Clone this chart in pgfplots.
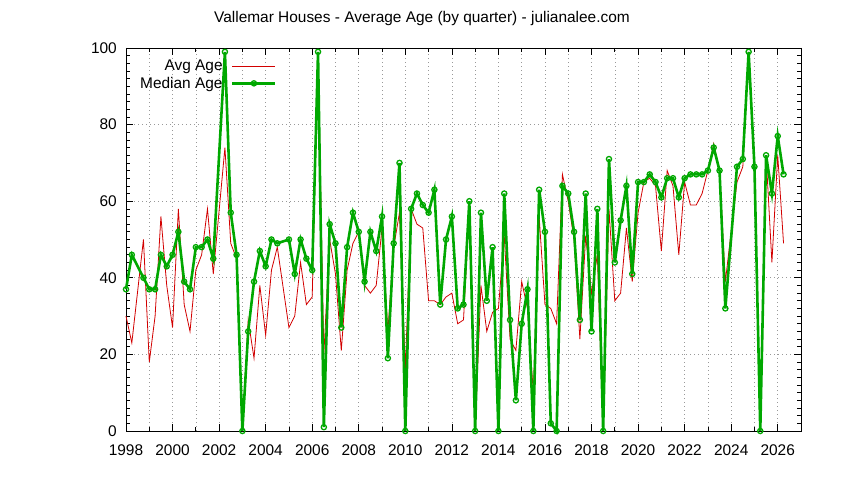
\documentclass[border=0pt]{standalone}
\usepackage{fontspec}
\setmainfont{Liberation Sans}
\usepackage{pgfplots}
\usepackage{pgfplotstable}
\pgfplotsset{compat=1.18}

\definecolor{avgred}{RGB}{210,0,0}
\definecolor{medgreen}{RGB}{0,168,0}
\newcommand\lbl{\fontsize{15.5}{18}\selectfont}

% quarter, average age, median age (quarters with no sales left out)
\pgfplotstableread{
year avg median
1998.00 30 37
1998.25 23 46
1998.75 50 40
1999.00 18 37
1999.25 30 37
1999.50 56 46
1999.75 38 43
2000.00 27 46
2000.25 58 52
2000.50 33 39
2000.75 26 37
2001.00 42 48
2001.25 46 48
2001.50 58 50
2001.75 41 45
2002.25 74 99
2002.50 49 57
2002.75 45 46
2003.00 0 0
2003.25 29 26
2003.50 19 39
2003.75 38 47
2004.00 25 43
2004.25 42 50
2004.50 48 49
2005.00 27 50
2005.25 30 41
2005.50 44 50
2005.75 33 45
2006.00 35 42
2006.25 99 99
2006.50 20 1
2006.75 50 54
2007.00 41 49
2007.25 21 27
2007.50 42 48
2007.75 49 57
2008.00 52 52
2008.25 38 39
2008.50 36 52
2008.75 38 47
2009.00 53 56
2009.25 26 19
2009.50 48 49
2009.75 57 70
2010.00 16 0
2010.25 58 58
2010.50 54 62
2010.75 53 59
2011.00 34 57
2011.25 34 63
2011.50 33 33
2011.75 35 50
2012.00 36 56
2012.25 28 32
2012.50 29 33
2012.75 58 60
2013.00 0 0
2013.25 38 57
2013.50 26 34
2013.75 31 48
2014.00 32 0
2014.25 51 62
2014.50 24 29
2014.75 21 8
2015.00 39 28
2015.25 32 37
2015.50 10 0
2015.75 56 63
2016.00 33 52
2016.25 32 2
2016.50 28 0
2016.75 67 64
2017.00 60 62
2017.25 50 52
2017.50 24 29
2017.75 51 62
2018.00 36 26
2018.25 46 58
2018.50 0 0
2018.75 58 71
2019.00 34 44
2019.25 36 55
2019.50 53 64
2019.75 39 41
2020.00 57 65
2020.25 65 65
2020.50 66 67
2020.75 64 65
2021.00 47 61
2021.25 68 66
2021.50 64 66
2021.75 46 61
2022.00 65 66
2022.25 59 67
2022.50 59 67
2022.75 62 67
2023.00 68 68
2023.25 75 74
2023.50 68 68
2023.75 39 32
2024.25 65 69
2024.50 69 71
2024.75 99 99
2025.00 69 69
2025.25 0 0
2025.50 72 72
2025.75 44 62
2026.00 72 77
2026.25 49 67
}\agedata

\begin{document}
\begin{tikzpicture}
\path (0,0) rectangle (844bp,480bp);
\node[font=\lbl] at (422bp,461bp) {Vallemar Houses - Average Age (by quarter) - julianalee.com};
\begin{axis}[
    at={(126bp,49bp)}, anchor=south west,
    width=675bp, height=383bp, scale only axis,
    xmin=1998, xmax=2027, ymin=0, ymax=100,
    xtick={1998,2000,...,2026},
    minor xtick={1999,2001,...,2027},
    ytick={0,20,...,100},
    minor y tick num=9,
    xmajorgrids, xminorgrids, ymajorgrids,
    grid style={gray!80, line width=0.6bp, dash pattern=on 1bp off 3bp},
    minor grid style={gray!80, line width=0.6bp, dash pattern=on 1bp off 3bp},
    tick align=inside,
    major tick length=7bp, minor tick length=4bp,
    tick style={black, line width=0.7bp},
    axis line style={line width=0.8bp},
    ticklabel style={font=\lbl, /pgf/number format/assume math mode=true},
    x tick label style={/pgf/number format/1000 sep={}, inner sep=0pt, anchor=north, yshift=-14bp},
    y tick label style={inner sep=0pt, anchor=east, xshift=-9bp},
    clip=false,
    legend plot pos=right,
    legend cell align=right,
    legend style={draw=none, fill=none, font=\lbl, at={(0.228,0.976)}, anchor=north east,
        column sep=8bp, row sep=4bp, nodes={inner sep=0.5bp}},
    legend image code/.code={\draw[mark repeat=2,mark phase=2,#1] plot coordinates {(0bp,0bp) (21.5bp,0bp) (43bp,0bp)};},
]
\addplot[avgred, line width=0.8bp] table[x=year, y=avg] {\agedata};
\addlegendentry{Avg Age}
\addplot[medgreen, line width=2.6bp, mark=o, mark size=2.6bp,
    mark options={line width=1.3bp, solid, fill=green!20!white}] table[x=year, y=median] {\agedata};
\addlegendentry{Median Age}
\end{axis}
\end{tikzpicture}
\end{document}
